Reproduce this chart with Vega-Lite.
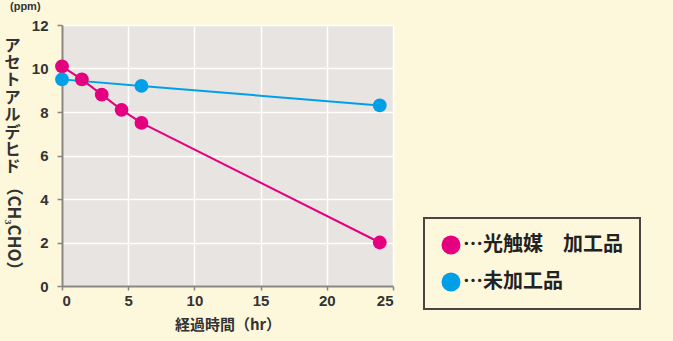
{
  "$schema": "https://vega.github.io/schema/vega-lite/v6.json",
  "width": 331,
  "height": 261,
  "autosize": "none",
  "padding": {"left": 62, "top": 25, "right": 280, "bottom": 55},
  "background": "#fdf8dc",
  "title": {"text": "(ppm)", "anchor": "start", "frame": "group", "fontSize": 11, "fontWeight": "bold", "color": "#333", "font": "Liberation Sans", "offset": 6, "dx": -52},
  "config": {
    "view": {"fill": "#e7e4e1", "stroke": null},
    "font": "Noto Sans CJK JP"
  },
  "data": {"values": [
    {"series": "光触媒　加工品", "time": 0, "value": 10.1},
    {"series": "光触媒　加工品", "time": 1.5, "value": 9.5},
    {"series": "光触媒　加工品", "time": 3, "value": 8.8},
    {"series": "光触媒　加工品", "time": 4.5, "value": 8.1},
    {"series": "光触媒　加工品", "time": 6, "value": 7.5},
    {"series": "光触媒　加工品", "time": 24, "value": 2.0},
    {"series": "未加工品", "time": 0, "value": 9.5},
    {"series": "未加工品", "time": 6, "value": 9.2},
    {"series": "未加工品", "time": 24, "value": 8.3}
  ]},
  "layer": [
    {
      "mark": {"type": "line", "strokeWidth": 2},
      "encoding": {
        "x": {"field": "time", "type": "quantitative", "scale": {"domain": [0, 25], "padding": 0, "nice": false},
          "axis": {"values": [0, 5, 10, 15, 20, 25], "title": "経過時間（hr）", "grid": true, "gridColor": "#ffffff", "gridWidth": 1.5,
            "domainColor": "#8a8580", "domainWidth": 2, "tickColor": "#8a8580", "tickSize": 4, "tickWidth": 1.5,
            "labelFontSize": 15, "labelFontWeight": "bold", "labelColor": "#333", "labelFont": "Liberation Sans", "labelPadding": 3,
            "titleFontSize": 15, "titleFontWeight": "bold", "titleColor": "#333", "titlePadding": 9}},
        "y": {"field": "value", "type": "quantitative", "scale": {"domain": [0, 12], "padding": 0, "nice": false},
          "axis": {"values": [0, 2, 4, 6, 8, 10, 12], "grid": true, "gridColor": "#ffffff", "gridWidth": 1.5,
            "domainColor": "#8a8580", "domainWidth": 2, "tickColor": "#8a8580", "tickSize": 5, "tickWidth": 1.5,
            "labelFontSize": 15, "labelFontWeight": "bold", "labelColor": "#333", "labelFont": "Liberation Sans", "labelPadding": 9,
            "title": ["ア","セ","ト","ア","ル","デ","ヒ","ド"], "titleAngle": 0, "titleAlign": "center", "titleBaseline": "top",
            "titleX": -50, "titleY": 12, "titleFontSize": 16, "titleLineHeight": 17.4, "titleFontWeight": "bold", "titleColor": "#333"}},
        "color": {"field": "series", "type": "nominal", "scale": {"domain": ["光触媒　加工品", "未加工品"], "range": ["#e4007f", "#00a0e9"]},
          "legend": {"title": null, "orient": "none", "legendX": 362, "legendY": 193, "padding": 17,
            "strokeColor": "#4a4540", "fillColor": "#fdf8dc",
            "symbolType": "circle", "symbolSize": 360, "symbolStrokeWidth": 0, "symbolOpacity": 1,
            "labelFontSize": 20, "labelFontWeight": "bold", "labelColor": "#222", "labelExpr": "'…' + datum.label",
            "rowPadding": 17, "labelOffset": 2, "labelLimit": 300,
            "encode": {"legend": {"update": {"strokeWidth": {"value": 2}}}}}}
      }
    },
    {
      "mark": {"type": "point", "filled": true, "size": 190, "opacity": 1},
      "encoding": {
        "x": {"field": "time", "type": "quantitative"},
        "y": {"field": "value", "type": "quantitative", "axis": null},
        "color": {"field": "series", "type": "nominal"}
      }
    },
    {
      "mark": {"type": "point", "opacity": 0},
      "encoding": {
        "x": {"field": "time", "type": "quantitative"},
        "y": {"field": "value", "type": "quantitative",
          "axis": {"orient": "left", "labels": false, "ticks": false, "domain": false, "grid": false,
            "title": "（CH₃CHO）", "titleAngle": 90, "titleAlign": "center", "titleBaseline": "middle",
            "titleX": -50, "titleY": 203, "titleFontSize": 17, "titleFontWeight": "bold", "titleColor": "#333"}}
      }
    }
  ],
  "resolve": {"axis": {"y": "independent"}}
}
